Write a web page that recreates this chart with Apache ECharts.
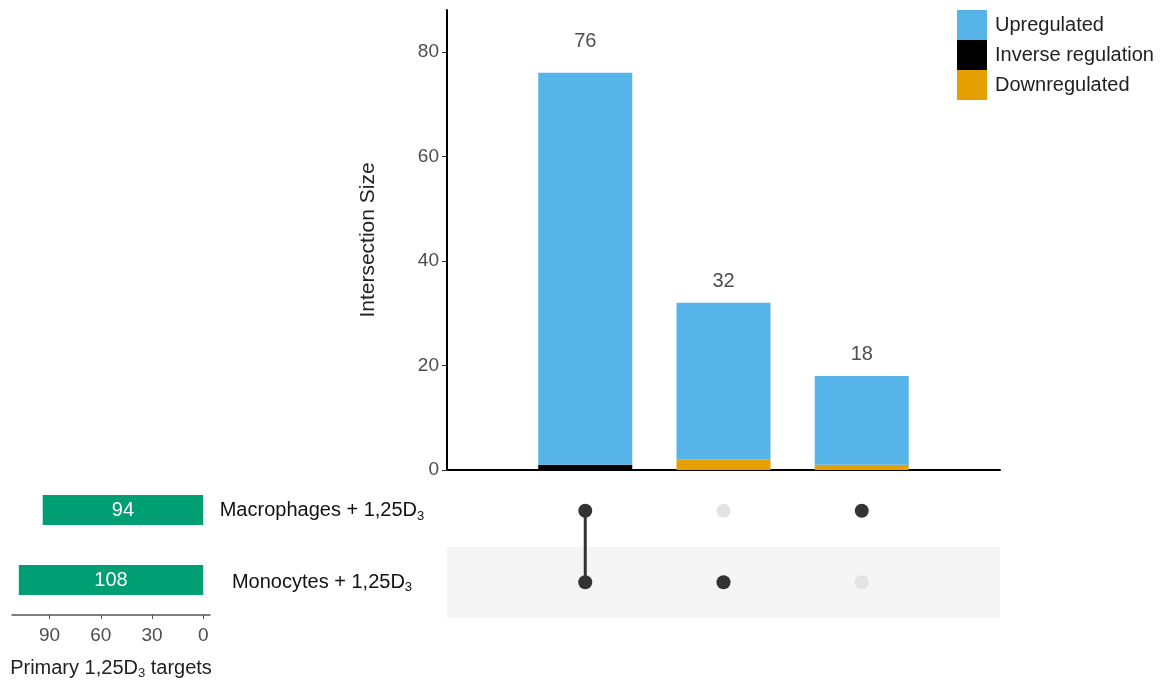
<!DOCTYPE html>
<html>
<head>
<meta charset="utf-8">
<script src="https://cdn.jsdelivr.net/npm/echarts@6/dist/echarts.min.js"></script>
<style>
  html, body { margin: 0; padding: 0; background: #fff; }
  #chart { width: 1166px; height: 681px; }
</style>
</head>
<body>
<div id="chart"></div>
<script>
// intersections, left to right
const intersections = ['Macrophages & Monocytes', 'Monocytes only', 'Macrophages only'];
const upregulated = [75, 30, 17];
const inverseRegulation = [1, 0, 0];
const downregulated = [0, 2, 1];
const totals = [76, 32, 18];

// sets, top to bottom
const sets = ['Macrophages', 'Monocytes'];
const setSizes = [94, 108];
// membership[i][j]: intersection i contains set j
const membership = [
  [1, 1],
  [0, 1],
  [1, 0]
];

const mainTicks = [0, 20, 40, 60, 80];
const sizeTicks = [0, 30, 60, 90];

const colors = {
  up: '#56B4E9',
  inverse: '#000000',
  down: '#E69F00',
  sets: '#009E73',
  dotOn: '#333333',
  dotOff: '#e3e3e3'
};

const FONT = 'Liberation Sans, Arial, sans-serif';

// the tallest bar's label sits a little higher in the original
const labelGap = [21, 11, 11];

const chart = echarts.init(document.getElementById('chart'));

// padded categories so the bars sit one slot in from each end of the axis
const slots = ['', ...intersections, ''];
const padded = arr => ['-', ...arr, '-'];

const dots = [];
membership.forEach((row, i) => {
  row.forEach((m, j) => {
    dots.push({ value: [i + 1, j], itemStyle: { color: m ? colors.dotOn : colors.dotOff } });
  });
});

const connectors = [];
membership.forEach((row, i) => {
  const on = row.map((m, j) => (m ? j : -1)).filter(j => j >= 0);
  if (on.length > 1) {
    connectors.push({
      type: 'line',
      xAxisIndex: 1,
      yAxisIndex: 1,
      data: [[i + 1, on[0]], [i + 1, on[on.length - 1]]],
      symbol: 'none',
      lineStyle: { color: colors.dotOn, width: 3 },
      z: 2,
      silent: true
    });
  }
});

const upData = padded(upregulated).map((v, i) =>
  v === '-' ? v : { value: v, label: { distance: labelGap[i - 1] } }
);

const setLabel = name => `{n|${name} + 1,25D}{s|3}`;

const option = {
  animation: false,
  textStyle: { fontFamily: FONT },
  legend: {
    orient: 'vertical',
    left: 957,
    top: 10,
    padding: 0,
    itemWidth: 30,
    itemHeight: 30,
    itemGap: 0,
    icon: 'rect',
    data: ['Upregulated', 'Inverse regulation', 'Downregulated'],
    textStyle: { fontSize: 20, color: '#222', fontFamily: FONT, padding: [3, 0, 0, 3] }
  },
  grid: [
    { left: 447, right: 166, top: 10, bottom: 211 },
    { left: 447, right: 166, top: 475, bottom: 63 },
    { left: 12, right: 956, top: 475, bottom: 63 }
  ],
  xAxis: [
    {
      gridIndex: 0,
      type: 'category',
      data: slots,
      boundaryGap: false,
      axisLine: { show: true, onZero: false, lineStyle: { color: '#000', width: 2 } },
      axisTick: { show: false },
      axisLabel: { show: false },
      splitLine: { show: false }
    },
    {
      gridIndex: 1,
      type: 'category',
      data: slots,
      boundaryGap: false,
      show: false
    },
    {
      gridIndex: 2,
      type: 'value',
      min: -4,
      max: 112,
      inverse: true,
      axisLine: { show: true, onZero: false, lineStyle: { color: '#555', width: 1.5 } },
      axisTick: { show: true, length: 4, customValues: sizeTicks, lineStyle: { color: '#555' } },
      axisLabel: { customValues: sizeTicks, fontSize: 19, color: '#4d4d4d', margin: 11 },
      splitLine: { show: false },
      name: '{n|Primary 1,25D}{s|3}{n| targets}',
      nameLocation: 'middle',
      nameGap: 41,
      nameTextStyle: {
        rich: {
          n: { fontSize: 20, color: '#222', fontFamily: FONT },
          s: { fontSize: 13, color: '#222', fontFamily: FONT, padding: [11, 0, 0, 0] }
        }
      }
    }
  ],
  yAxis: [
    {
      gridIndex: 0,
      type: 'value',
      min: 0,
      max: 88,
      axisLine: { show: true, lineStyle: { color: '#000', width: 2 } },
      axisTick: { show: true, length: 5, customValues: mainTicks, lineStyle: { color: '#333' } },
      axisLabel: { customValues: mainTicks, fontSize: 19, color: '#4d4d4d', margin: 8 },
      splitLine: { show: false },
      name: 'Intersection Size',
      nameLocation: 'middle',
      nameGap: 68,
      nameTextStyle: { fontSize: 21, color: '#222' }
    },
    {
      gridIndex: 1,
      type: 'category',
      data: sets,
      inverse: true,
      axisLine: { show: false },
      axisTick: { show: false },
      axisLabel: {
        margin: 125,
        align: 'center',
        formatter: v => setLabel(v),
        rich: {
          n: { fontSize: 20, color: '#111', fontFamily: FONT },
          s: { fontSize: 13, color: '#111', fontFamily: FONT, padding: [11, 0, 0, 0] }
        }
      },
      splitArea: { show: true, areaStyle: { color: ['rgba(255,255,255,0)', '#f5f5f5'] } }
    },
    {
      gridIndex: 2,
      type: 'category',
      data: sets,
      inverse: true,
      show: false
    }
  ],
  series: [
    {
      name: 'Inverse regulation',
      type: 'bar',
      stack: 'total',
      barWidth: 94,
      data: padded(inverseRegulation),
      itemStyle: { color: colors.inverse }
    },
    {
      name: 'Downregulated',
      type: 'bar',
      stack: 'total',
      barWidth: 94,
      data: padded(downregulated),
      itemStyle: { color: colors.down }
    },
    {
      name: 'Upregulated',
      type: 'bar',
      stack: 'total',
      barWidth: 94,
      data: upData,
      itemStyle: { color: colors.up },
      label: {
        show: true,
        position: 'top',
        distance: 21,
        fontSize: 20,
        color: '#4d4d4d',
        formatter: p => totals[p.dataIndex - 1]
      }
    },
    ...connectors,
    {
      type: 'scatter',
      xAxisIndex: 1,
      yAxisIndex: 1,
      symbolSize: 14,
      data: dots,
      itemStyle: { opacity: 1 },
      z: 3,
      silent: true
    },
    {
      type: 'bar',
      xAxisIndex: 2,
      yAxisIndex: 2,
      barWidth: 30,
      data: setSizes,
      itemStyle: { color: colors.sets },
      label: { show: true, position: 'inside', fontSize: 20, color: '#fff' }
    }
  ]
};

chart.setOption(option);
</script>
</body>
</html>
